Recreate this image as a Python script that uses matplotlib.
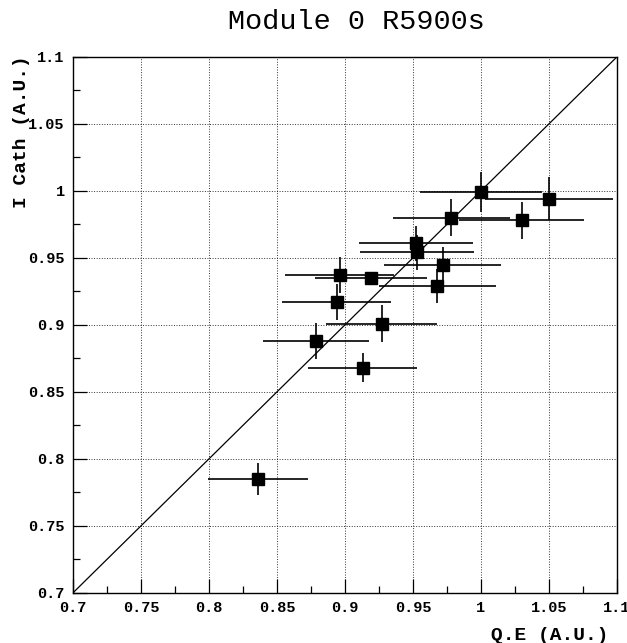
import matplotlib
matplotlib.use("Agg")
import matplotlib.pyplot as plt
from matplotlib.ticker import MultipleLocator

# Q.E vs cathode current, module 0 R5900s tubes
qe = [1.000, 1.050, 0.978, 1.030, 0.952, 0.953, 0.972, 0.896, 0.919, 0.968,
      0.894, 0.927, 0.879, 0.913, 0.836]
qe_err = [0.045, 0.047, 0.043, 0.046, 0.042, 0.042, 0.043, 0.040, 0.041, 0.043,
          0.040, 0.041, 0.039, 0.040, 0.037]
icath = [0.999, 0.994, 0.980, 0.978, 0.961, 0.954, 0.945, 0.937, 0.935, 0.929,
         0.917, 0.901, 0.888, 0.868, 0.785]
icath_err = [0.015, 0.016, 0.014, 0.014, 0.013, 0.013, 0.013, 0.0135, 0.004, 0.013,
             0.0135, 0.0135, 0.0135, 0.011, 0.012]

xticks = [0.7, 0.75, 0.8, 0.85, 0.9, 0.95, 1.0, 1.05, 1.1]
xticklabels = ["0.7", "0.75", "0.8", "0.85", "0.9", "0.95", "1", "1.05", "1.1"]

mono = "Liberation Mono"

fig = plt.figure(figsize=(6.27, 6.43), dpi=100)
ax = fig.add_axes([0.1164, 0.078, 0.8676, 0.8336])

ax.plot([0.7, 1.1], [0.7, 1.1], color="black", lw=0.9, zorder=2)
ax.errorbar(qe, icath, xerr=qe_err, yerr=icath_err, fmt="s", color="black",
            ecolor="black", elinewidth=1.2, capsize=0, markersize=9, zorder=3)

ax.set_xlim(0.7, 1.1)
ax.set_ylim(0.7, 1.1)
ax.set_xticks(xticks)
ax.set_xticklabels(xticklabels)
ax.set_yticks(xticks)
ax.set_yticklabels(xticklabels)
ax.xaxis.set_minor_locator(MultipleLocator(0.025))
ax.yaxis.set_minor_locator(MultipleLocator(0.025))
ax.tick_params(which="major", direction="in", length=10, width=0.9, pad=6)
ax.tick_params(which="minor", direction="in", length=5, width=0.9)
for lab in ax.get_xticklabels() + ax.get_yticklabels():
    lab.set_fontfamily(mono)
    lab.set_fontweight("bold")
    lab.set_fontsize(11)

ax.grid(True, which="major", linestyle=":", color="black", linewidth=0.7, alpha=0.8)
for sp in ax.spines.values():
    sp.set_linewidth(1.0)

fig.text(0.568, 0.966, "Module 0 R5900s", ha="center", va="center",
         family=mono, fontsize=20.5)
fig.text(0.970, 0.012, "Q.E (A.U.)", ha="right", va="center",
         family=mono, fontweight="bold", fontsize=14)
fig.text(0.035, 0.914, "I Cath (A.U.)", ha="center", va="top", rotation=90,
         family=mono, fontweight="bold", fontsize=14)

fig.savefig("out.png", dpi=100)
